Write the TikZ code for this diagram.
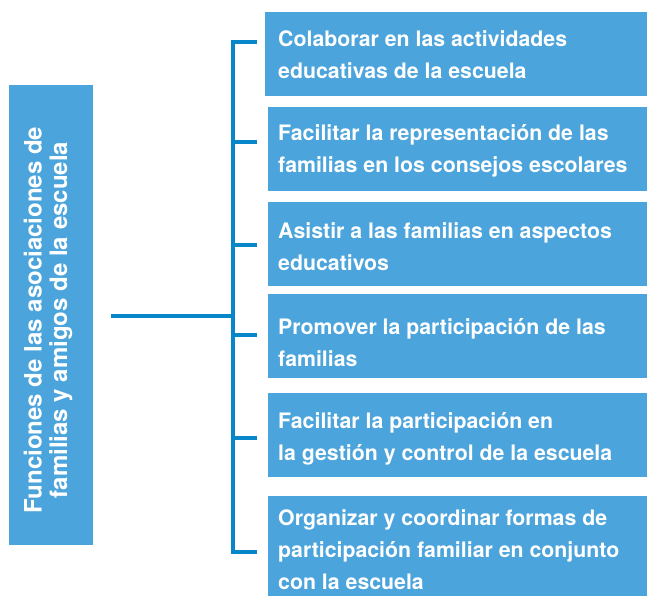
\documentclass[tikz,border=0pt]{standalone}
\usepackage{fontspec}
\setmainfont{TeX Gyre Heros}
\definecolor{boxblue}{HTML}{4BA4DB}
\definecolor{lineblue}{HTML}{0786CA}
\begin{document}
\begin{tikzpicture}[x=1pt,y=-1pt,
  box/.style={fill=boxblue, inner sep=0pt, anchor=north west},
  txt/.style={text=white, font=\bfseries\fontsize{21.3}{32}\selectfont, align=left, anchor=west, inner sep=0pt},
  conn/.style={draw=lineblue, line width=4.5pt, line join=miter}]
\useasboundingbox (0,0) rectangle (648,596);
% main box
\node[box, minimum width=84pt, minimum height=460pt] (main) at (9,85) {};
\node[text=white, font=\bfseries\fontsize{24}{25.5}\selectfont, align=center, rotate=90, inner sep=0pt] (maintxt) at (48,320) {Funciones de las asociaciones de\\familias y amigos de la escuela};
% right boxes
\node[box, minimum width=382pt, minimum height=84pt] (b1) at (265,12) {};
\node[box, minimum width=379pt, minimum height=84pt] (b2) at (268,107) {};
\node[box, minimum width=379pt, minimum height=84pt] (b3) at (268,202) {};
\node[box, minimum width=379pt, minimum height=84pt] (b4) at (268,294) {};
\node[box, minimum width=379pt, minimum height=84pt] (b5) at (268,393) {};
\node[box, minimum width=379pt, minimum height=100pt] (b6) at (268,496) {};
\node[txt] (t1) at (278,55) {Colaborar en las actividades\\educativas de la escuela};
\node[txt] (t2) at (278,151) {Facilitar la representación de las\\familias en los consejos escolares};
\node[txt] (t3) at (278,247) {Asistir a las familias en aspectos\\educativos};
\node[txt] (t4) at (278,343) {Promover la participación de las\\familias};
\node[txt] (t5) at (278,439) {Facilitar la participación en\\la gestión y control de la escuela};
\node[txt] (t6) at (278,550) {Organizar y coordinar formas de\\participación familiar en conjunto\\con la escuela};
% connectors
\coordinate (top) at (233,42);
\coordinate (bot) at (233,552);
\coordinate (k1) at (257,42);
\coordinate (k2) at (257,142);
\coordinate (k3) at (257,245);
\coordinate (k4) at (257,335);
\coordinate (k5) at (257,438);
\coordinate (k6) at (257,552);
\coordinate (s) at (111,316);
\draw[conn] (k1) -- (top) -- (bot) -- (k6);
\draw[conn] (top |- k2) -- (k2);
\draw[conn] (top |- k3) -- (k3);
\draw[conn] (top |- k4) -- (k4);
\draw[conn] (top |- k5) -- (k5);
\draw[conn] (s) -- (top |- s);
\end{tikzpicture}
\end{document}
